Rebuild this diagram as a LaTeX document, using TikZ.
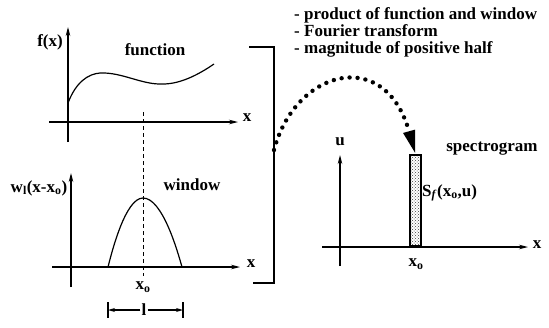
\documentclass[tikz,border=0pt]{standalone}
\usepackage{fontspec}
\setmainfont{Liberation Serif}
\usetikzlibrary{arrows.meta, positioning, patterns, calc}

\begin{document}
\begin{tikzpicture}[x=1pt, y=-1pt,
  lbl/.style={font=\fontsize{17}{17}\selectfont\bfseries, inner sep=1pt},
  axis/.style={-{Stealth[length=9pt,width=4.5pt]}, line width=1.1pt},
  curve/.style={line width=1.2pt},
  guide/.style={line width=1pt, dash pattern=on 4pt off 3pt},
  brk/.style={line width=2.6pt},
  dim/.style={line width=1.1pt, -{Stealth[length=7pt,width=4pt]}},
  bin/.style={draw, line width=1.2pt, pattern=crosshatch dots,
              pattern color=black!75, inner sep=0pt,
              minimum width=11pt, minimum height=91pt},
  flow/.style={line width=4.4pt, line cap=round,
               dash pattern=on 0pt off 8pt,
               -{Triangle[length=24pt,width=11pt]}}
]
\useasboundingbox (0,0) rectangle (549,327);

% function
\draw[axis] (68,142) -- (68,27);
\draw[axis] (49,122) -- (238,122);
\node[lbl] (fxlbl) at (50,42) {f(x)};
\node[lbl] (fxaxis) at (247,118) {x};
\node[lbl] (func) at (155,50) {function};
\draw[curve] (68,103) .. controls (76,82) and (88,74) .. (100,73)
  .. controls (122,72) and (142,85) .. (163,84)
  .. controls (180,84) and (198,75) .. (214,64);

% window
\draw[axis] (71,287) -- (71,173);
\draw[axis] (52,267) -- (240,267);
\node[lbl] (wlbl) at (39,188) {w\textsubscript{l}(x-x\textsubscript{o})};
\node[lbl] (waxis) at (251,264) {x};
\node[lbl] (win) at (192,185) {window};
\draw[curve] (108,267) parabola bend (143,198) (182,267);
\draw[guide] (143,112) -- (143,276);
\node[lbl] (xo) at (143,287) {x\textsubscript{o}};

% window length
\node[lbl] (len) at (144,310) {l};
\coordinate (dl) at (108,310);
\coordinate (dr) at (183,310);
\draw[dim] (len.west) -- (dl);
\draw[dim] (len.east) -- (dr);
\draw[line width=1.1pt] ($(dl)+(0,-8)$) -- ($(dl)+(0,8)$);
\draw[line width=1.1pt] ($(dr)+(0,-8)$) -- ($(dr)+(0,8)$);

% bracket
\draw[brk] (249,47) -- (274,47) -- (274,283) -- (253,283);
\coordinate (src) at (274,150);

% steps
\node[lbl, anchor=north west, align=left,
      font=\fontsize{17}{17}\selectfont\bfseries] (steps) at (293,6)
  {- product of function and window\\
   - Fourier transform\\
   - magnitude of positive half};

% spectrogram
\draw[axis] (340,266) -- (340,155);
\draw[axis] (322,247) -- (528,247);
\node[lbl] (ulbl) at (340,142) {u};
\node[lbl] (saxis) at (537,245) {x};
\node[bin] (spec) at (415.5,200.5) {};
\node[lbl] (spectro) at (492,149) {spectrogram};
\node[lbl, anchor=west] (sflbl) at (421,193)
  {S\textsubscript{\textit{f}}(x\textsubscript{o},u)};
\node[lbl] (sxo) at (416,264) {x\textsubscript{o}};

\draw[flow] (src) .. controls (295,70) and (385,45) .. (spec.north);
\end{tikzpicture}
\end{document}
